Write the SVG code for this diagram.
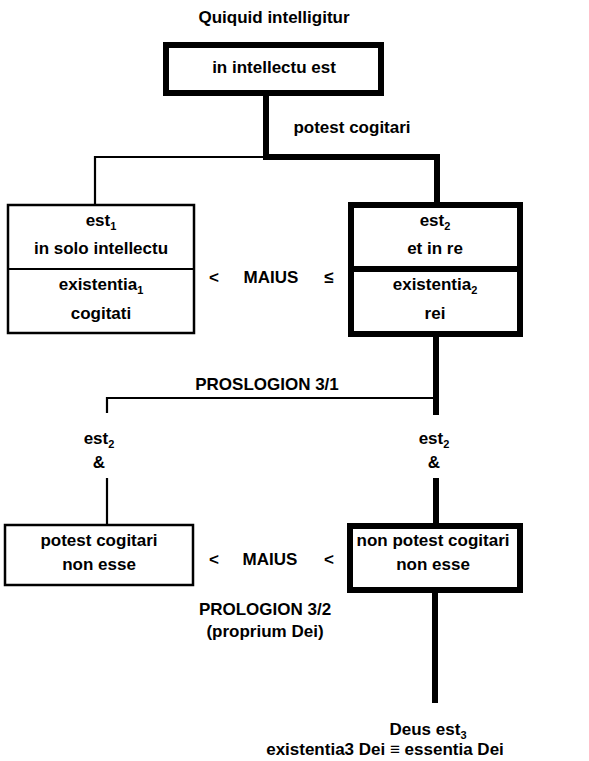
<svg xmlns="http://www.w3.org/2000/svg" width="589" height="761" viewBox="0 0 589 761">
<style>
text{font-family:"Liberation Sans",Arial,Helvetica,sans-serif;font-weight:bold;font-size:17px;fill:#000;text-anchor:middle}
.sub{font-size:11px}
.thick{fill:none;stroke:#000;stroke-width:6;stroke-linejoin:miter}
.thin{fill:none;stroke:#000;stroke-width:2.2}
.boxthick{fill:#fff;stroke:#000;stroke-width:6}
.boxthin{fill:#fff;stroke:#000;stroke-width:2.5}
</style>
<rect width="589" height="761" fill="#fff"/>
<g id="connectors">
<polyline class="thick" points="266,96 266,157 437,157 437,203"/>
<polyline class="thin" points="266,157 95,157 95,205"/>
<polyline class="thick" points="436,337 436,415"/>
<polyline class="thin" points="436,398 107,398 107,413"/>
<line class="thin" x1="107" y1="478" x2="107" y2="525"/>
<line class="thick" x1="436" y1="478" x2="436" y2="524"/>
<line class="thick" x1="435" y1="593" x2="435" y2="703"/>
</g>
<g id="title"><text x="274" y="23">Quiquid intelligitur</text></g>
<g id="top-box">
<rect class="boxthick" x="166" y="45" width="215" height="48"/>
<text x="274" y="73">in intellectu est</text>
</g>
<g id="label-potest"><text x="352" y="133">potest cogitari</text></g>
<g id="left-box">
<rect class="boxthin" x="8" y="205" width="186" height="128"/>
<line class="thin" x1="8" y1="269" x2="194" y2="269" stroke-width="2.5"/>
<text x="101" y="226">est<tspan class="sub" dy="4">1</tspan></text>
<text x="101" y="254">in solo intellectu</text>
<text x="101" y="290">existentia<tspan class="sub" dy="4">1</tspan></text>
<text x="101" y="319">cogitati</text>
</g>
<g id="right-box">
<rect class="boxthick" x="351" y="205" width="169" height="129"/>
<line class="thick" x1="351" y1="269" x2="520" y2="269"/>
<text x="435" y="226">est<tspan class="sub" dy="4">2</tspan></text>
<text x="435" y="254">et in re</text>
<text x="435" y="290">existentia<tspan class="sub" dy="4">2</tspan></text>
<text x="435" y="319">rei</text>
</g>
<g id="compare-1">
<text x="214" y="283">&lt;</text>
<text x="271" y="283">MAIUS</text>
<text x="329" y="283">≤</text>
</g>
<g id="label-proslogion"><text x="267" y="390">PROSLOGION 3/1</text></g>
<g id="label-left-est2">
<text x="99" y="444">est<tspan class="sub" dy="4">2</tspan></text>
<text x="99" y="468">&amp;</text>
</g>
<g id="label-right-est2">
<text x="434" y="444">est<tspan class="sub" dy="4">2</tspan></text>
<text x="434" y="468">&amp;</text>
</g>
<g id="left-bottom-box">
<rect class="boxthin" x="5" y="525" width="188" height="60"/>
<text x="99" y="546">potest cogitari</text>
<text x="99" y="570">non esse</text>
</g>
<g id="right-bottom-box">
<rect class="boxthick" x="350" y="526" width="170" height="64"/>
<text x="433" y="546">non potest cogitari</text>
<text x="433" y="570">non esse</text>
</g>
<g id="compare-2">
<text x="214" y="565">&lt;</text>
<text x="270" y="565">MAIUS</text>
<text x="329" y="565">&lt;</text>
</g>
<g id="label-prologion">
<text x="265" y="615">PROLOGION 3/2</text>
<text x="265" y="637">(proprium Dei)</text>
</g>
<g id="conclusion">
<text x="428" y="735">Deus est<tspan class="sub" dy="4">3</tspan></text>
<text x="385" y="755">existentia3 Dei ≡ essentia Dei</text>
</g>
</svg>
